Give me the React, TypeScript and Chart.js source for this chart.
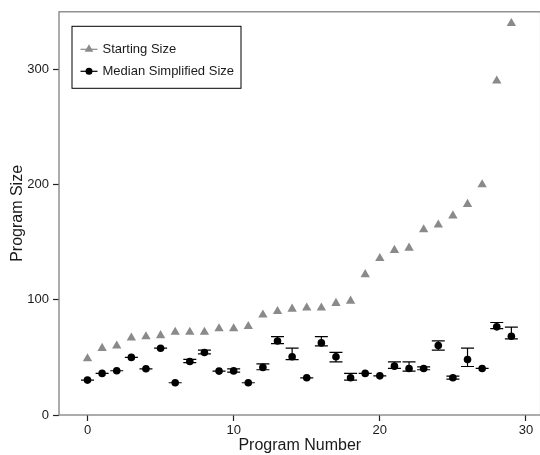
import React, { useEffect, useRef } from "react";
import { Chart, registerables } from "chart.js";

Chart.register(...registerables);

const programNumbers = [0, 1, 2, 3, 4, 5, 6, 7, 8, 9, 10, 11, 12, 13, 14, 15, 16, 17, 18, 19, 20, 21, 22, 23, 24, 25, 26, 27, 28, 29];
const startingSize = [49, 58, 60, 67, 68, 69, 72, 72, 72, 75, 75, 77, 87, 90, 92, 93, 93, 97, 99, 122, 136, 143, 145, 161, 165, 173, 183, 200, 290, 340];
const medianSize = [30.3, 36.1, 38.4, 50, 40.1, 58, 28, 46.5, 54.3, 38.1, 38.3, 28, 41.3, 64.3, 50.5, 32.3, 62.6, 50.5, 32.3, 36.1, 34, 42.4, 40.4, 40.4, 60.3, 32.3, 48.2, 40.4, 76.5, 68.4];
const medianLow = [30.3, 36.1, 38.4, 50, 40.1, 58, 28, 45.5, 53, 38.1, 37.2, 28, 39.3, 62, 48, 32.3, 60, 46.2, 30.3, 36.1, 34, 40.4, 38.1, 39.3, 56.3, 31.2, 42.1, 40.4, 75, 66.1];
const medianHigh = [30.3, 36.1, 38.4, 50, 40.1, 58, 28, 48.3, 56.3, 38.1, 40.1, 28, 44.3, 68, 58.1, 32.3, 68.1, 54.3, 36.1, 36.1, 34, 46.2, 46.2, 41.8, 64.3, 33.8, 58, 40.4, 80.3, 76.2];
const xTicks = [0, 10, 20, 30];
const yTicks = [0, 100, 200, 300];
const seriesNames = ["Starting Size", "Median Simplified Size"];

const FONT = "'Liberation Sans', Arial, Helvetica, sans-serif";
const GRAY = "#8a8a8a";
const TEXT = "#1a1a1a";

const framePlugin = {
  id: "frame",
  beforeDatasetsDraw(chart: any) {
    const { ctx, chartArea } = chart;
    ctx.save();
    ctx.strokeStyle = "#808080";
    ctx.lineWidth = 1.3;
    ctx.strokeRect(chartArea.left, chartArea.top, chartArea.right - chartArea.left, chartArea.bottom - chartArea.top);
    ctx.restore();
  },
};

const errorBarPlugin = {
  id: "errorBars",
  afterDatasetsDraw(chart: any) {
    const { ctx } = chart;
    const x = chart.scales.x;
    const y = chart.scales.y;
    ctx.save();
    ctx.strokeStyle = "#000";
    ctx.lineWidth = 1.2;
    programNumbers.forEach((n, i) => {
      const px = x.getPixelForValue(n);
      const lo = y.getPixelForValue(medianLow[i]);
      const hi = y.getPixelForValue(medianHigh[i]);
      ctx.beginPath();
      ctx.moveTo(px, lo);
      ctx.lineTo(px, hi);
      ctx.moveTo(px - 6.5, lo);
      ctx.lineTo(px + 6.5, lo);
      ctx.moveTo(px - 6.5, hi);
      ctx.lineTo(px + 6.5, hi);
      ctx.stroke();
    });
    ctx.restore();
  },
};

const legendPlugin = {
  id: "boxLegend",
  afterDraw(chart: any) {
    const { ctx, chartArea } = chart;
    const bx = chartArea.left + 12.5;
    const by = chartArea.top + 14;
    const bw = 169;
    const bh = 62;
    ctx.save();
    ctx.fillStyle = "#fff";
    ctx.fillRect(bx, by, bw, bh);
    ctx.strokeStyle = "#000";
    ctx.lineWidth = 1;
    ctx.strokeRect(bx + 0.5, by + 0.5, bw, bh);
    const rows = [by + 23.5, by + 45.5];
    ctx.strokeStyle = GRAY;
    ctx.lineWidth = 1.2;
    ctx.beginPath();
    ctx.moveTo(bx + 9, rows[0]);
    ctx.lineTo(bx + 26, rows[0]);
    ctx.stroke();
    ctx.fillStyle = GRAY;
    const cx = bx + 17.5;
    const r = 5;
    ctx.beginPath();
    ctx.moveTo(cx, rows[0] - r);
    ctx.lineTo(cx + r * 0.866, rows[0] + r * 0.5);
    ctx.lineTo(cx - r * 0.866, rows[0] + r * 0.5);
    ctx.closePath();
    ctx.fill();
    ctx.strokeStyle = "#000";
    ctx.beginPath();
    ctx.moveTo(bx + 9, rows[1]);
    ctx.lineTo(bx + 26, rows[1]);
    ctx.stroke();
    ctx.fillStyle = "#000";
    ctx.beginPath();
    ctx.arc(cx, rows[1], 3.5, 0, Math.PI * 2);
    ctx.fill();
    ctx.fillStyle = TEXT;
    ctx.font = `13px ${FONT}`;
    ctx.textBaseline = "middle";
    ctx.textAlign = "left";
    ctx.fillText(seriesNames[0], bx + 31, rows[0]);
    ctx.fillText(seriesNames[1], bx + 31, rows[1]);
    ctx.restore();
  },
};

export default function App() {
  const ref = useRef<HTMLCanvasElement | null>(null);
  useEffect(() => {
    if (!ref.current) return;
    const chart = new Chart(ref.current, {
      type: "scatter",
      data: {
        datasets: [
          {
            label: seriesNames[0],
            data: programNumbers.map((n, i) => ({ x: n, y: startingSize[i] })),
            pointStyle: "triangle",
            pointRadius: 5.4,
            pointBackgroundColor: GRAY,
            pointBorderWidth: 0,
            borderColor: GRAY,
          },
          {
            label: seriesNames[1],
            data: programNumbers.map((n, i) => ({ x: n, y: medianSize[i] })),
            pointStyle: "circle",
            pointRadius: 3.8,
            pointBackgroundColor: "#000",
            pointBorderWidth: 0,
            borderColor: "#000",
          },
        ],
      },
      options: {
        responsive: false,
        animation: false,
        layout: { padding: { top: 10, left: 0, right: 0, bottom: 0 } },
        plugins: {
          legend: { display: false },
          tooltip: { enabled: false },
        },
        scales: {
          x: {
            type: "linear",
            min: -1.95,
            max: 31,
            afterBuildTicks: (scale: any) => {
              scale.ticks = xTicks.map((v) => ({ value: v }));
            },
            afterFit: (scale: any) => {
              scale.height = 40;
            },
            grid: { display: true, drawOnChartArea: false, drawTicks: true, tickLength: 6, tickColor: "#222", tickWidth: 1.2 },
            border: { display: false },
            ticks: { padding: 2, color: TEXT, font: { family: FONT, size: 13 }, maxRotation: 0 },
            title: { display: true, text: "Program Number", color: TEXT, font: { family: FONT, size: 16 }, padding: { top: 0, bottom: 0 } },
          },
          y: {
            type: "linear",
            min: 0,
            max: 350,
            afterBuildTicks: (scale: any) => {
              scale.ticks = yTicks.map((v) => ({ value: v }));
            },
            afterFit: (scale: any) => {
              scale.width = 59;
            },
            grid: { display: true, drawOnChartArea: false, drawTicks: true, tickLength: 6, tickColor: "#222", tickWidth: 1.2 },
            border: { display: false },
            ticks: { padding: 4, color: TEXT, font: { family: FONT, size: 13 } },
            title: { display: true, text: "Program Size", color: TEXT, font: { family: FONT, size: 16 }, padding: { top: 8, bottom: 0 } },
          },
        },
      },
      plugins: [framePlugin, errorBarPlugin, legendPlugin],
    } as any);
    return () => chart.destroy();
  }, []);
  return (
    <div style={{ position: "fixed", left: 0, top: 0, width: 540, height: 455, overflow: "hidden", background: "#fff" }}>
      <canvas ref={ref} width={546} height={455} style={{ display: "block" }} />
    </div>
  );
}
